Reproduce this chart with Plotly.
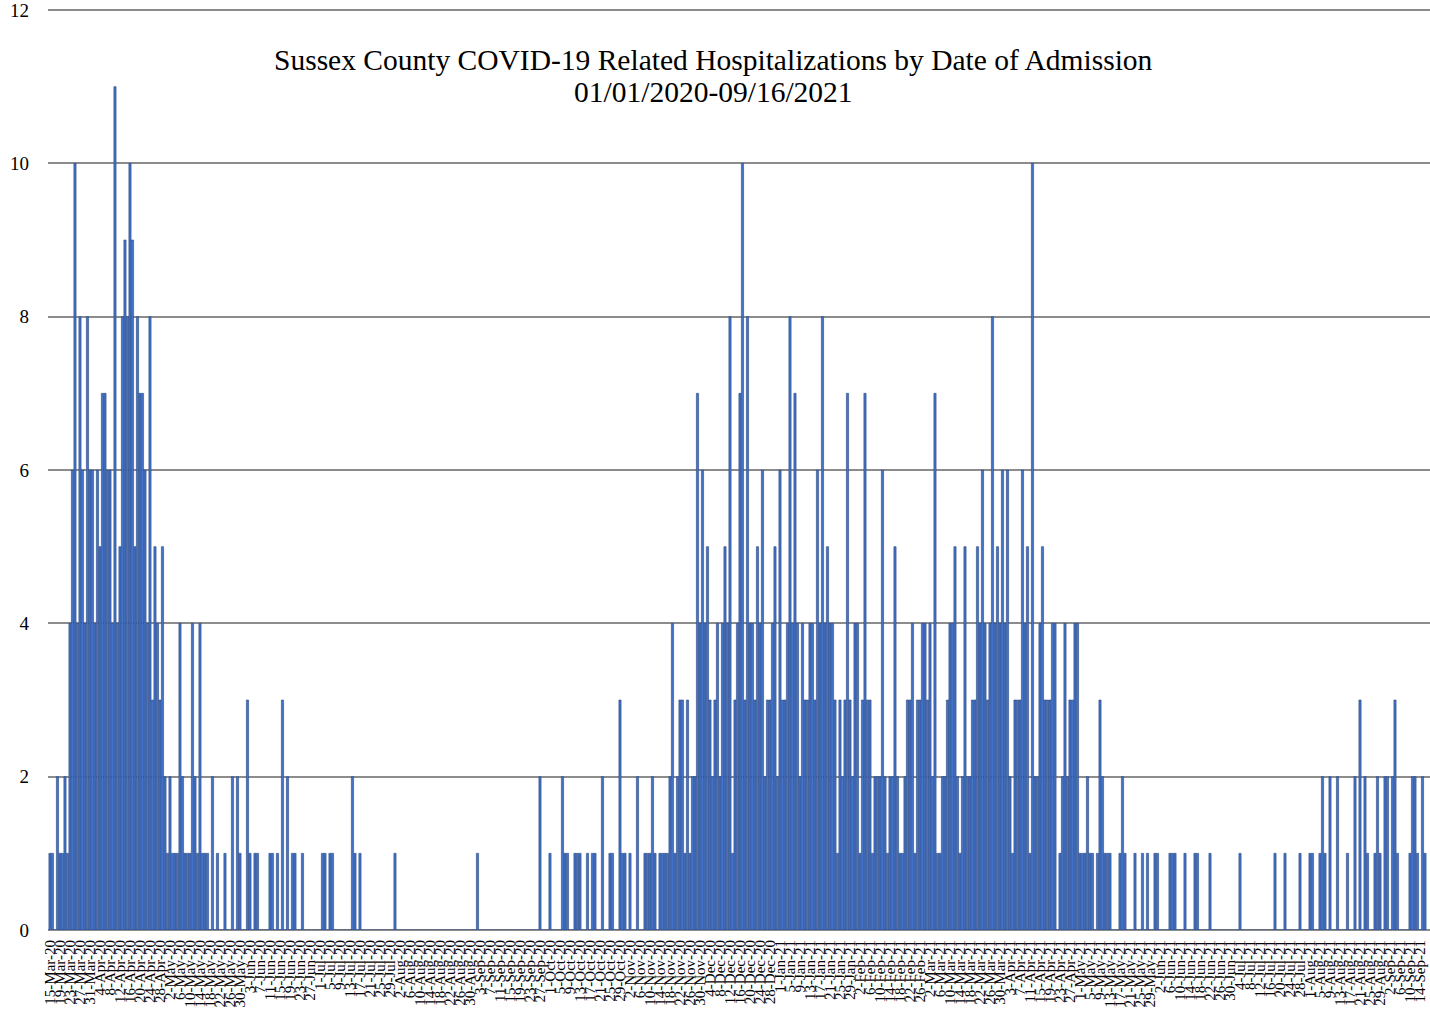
import pandas as pd
import plotly.graph_objects as go

START_DATE = "2020-03-15"

# Daily admissions (15-Mar-20 onward)
wave1 = [1, 1, 0, 2, 1, 1, 2, 1,
         4, 6, 10, 4, 8, 6, 4, 8, 6, 6, 4, 6,
         5, 7, 7, 6, 6, 4, 11, 4, 5, 8,
         9, 8, 10, 9, 5, 8, 7, 7, 6, 4,
         8, 3, 5, 4, 3, 5, 2, 1, 2, 1,
         1]
summer1 = [1, 4, 2, 1, 1, 1, 4, 2, 1, 4,
           1, 1, 1, 0, 2, 0, 1, 0, 0, 1,
           0, 0, 2, 0, 2, 1, 0, 0, 3, 1,
           0, 1, 1, 0, 0, 0, 0, 1, 1, 0,
           1, 0, 3, 0, 2, 0, 1, 1, 0, 0,
           1, 0, 0, 0, 0, 0, 0, 0, 1, 1,
           0, 1, 1]
summer2 = [0, 0, 0, 0, 0, 0, 0, 2, 1, 0,
           1, 0, 0, 0, 0, 0, 0, 0, 0, 0,
           0, 0, 0, 0, 1, 0, 0, 0, 0, 0,
           0, 0, 0, 0, 0, 0, 0, 0, 0, 0,
           0, 0, 0, 0, 0, 0, 0, 0, 0, 0,
           0, 0, 0, 0, 0, 0, 0, 1, 0, 0,
           0, 0, 0, 0, 0, 0, 0, 0, 0, 0,
           0, 0, 0, 0, 0, 0, 0, 0, 0, 0,
           0, 0]
fall = [2, 0, 0, 0, 1, 0, 0, 0, 0, 2,
        1, 1, 0, 0, 1, 1, 1, 0, 0, 1,
        0, 1, 1, 0, 0, 2, 0, 0, 1, 1,
        0, 0, 3, 1, 1, 0, 1, 0, 0, 2,
        0, 0, 1, 1, 1, 2, 1, 0, 1, 1,
        1, 1, 2, 4, 1]
wave2 = [2, 3, 3, 1, 3, 1, 2, 2, 7, 4,
         6, 4, 5, 3, 2, 3, 4, 2, 4, 5,
         4, 8, 1, 3, 4, 7, 10, 3, 8, 4,
         4, 3, 5, 4, 6, 2, 3, 3, 4, 5,
         2, 6, 3, 3, 4, 8, 4, 7, 4, 2,
         4, 3, 3, 4, 4, 3, 6, 4, 8, 4,
         5, 4, 4, 3, 1, 3, 2, 3, 7, 3,
         2, 4, 4, 1, 3, 7, 3, 3, 1, 2,
         2, 2, 6, 2, 1, 2, 2, 5, 2, 1,
         1, 2, 3, 3, 4, 1, 3, 3, 4, 4,
         3, 4, 2, 7, 1, 1, 2, 2, 3, 4,
         4, 5, 2, 1, 2, 5, 2, 2, 3, 3,
         5, 4, 6, 4, 3, 4, 8, 4, 5, 4,
         6, 4, 6, 2, 1, 3, 3, 3, 6, 4,
         5, 1, 10, 2, 2, 4, 5, 3, 3, 3,
         4, 4, 0, 1, 2, 4, 2, 3, 3, 4,
         4, 1, 1, 1, 2, 1, 1, 0, 1, 3,
         2, 1, 1, 1, 0, 0, 0, 1, 2, 1,
         0]
tail = [0, 0, 1, 0, 0, 1, 0, 1, 0, 0,
        1, 1, 0, 0, 0, 0, 1, 1, 1, 0,
        0, 0, 1, 0, 0, 0, 1, 1, 0, 0,
        0, 0, 1, 0, 0, 0, 0, 0, 0, 0,
        0, 0, 0, 0, 1, 0, 0, 0, 0, 0,
        0, 0, 0, 0, 0, 0, 0, 0, 1, 0,
        0, 0, 1, 0, 0, 0, 0, 0, 1, 0,
        0, 0, 1, 1, 0, 0, 1, 2, 1, 0,
        2, 0, 0, 2, 0, 0, 0, 1, 0, 0,
        2, 0, 3, 0, 2, 1, 0, 0, 1, 2,
        1, 0, 2, 2, 0, 2, 3, 1, 0, 0,
        0, 0, 1, 2, 2, 1, 0, 2, 1]

values = wave1 + summer1 + summer2 + fall + wave2 + tail
dates = pd.date_range(START_DATE, periods=len(values), freq="D")

tick_dates = pd.date_range(START_DATE, "2021-09-14", freq="4D")
tick_labels = [f"{d.day}-{d.strftime('%b-%y')}" for d in tick_dates]

y_ticks = [0, 2, 4, 6, 8, 10, 12]

title_line1 = "Sussex County COVID-19 Related Hospitalizations by Date of Admission"
title_line2 = "01/01/2020-09/16/2021"

SERIF = "Liberation Serif, Times New Roman, serif"

W, H = 1430, 1012
ML, MR, MT, MB = 48, 0, 8, 82
PW, PH = W - ML - MR, H - MT - MB
Y_TOP = 12 * PH / (PH - 2)   # keeps the 12 gridline 2px inside the plot

fig = go.Figure()
fig.add_trace(go.Bar(
    x=dates, y=values,
    marker=dict(color="#4472C4", line=dict(color="#2C4A86", width=0.6)),
    hoverinfo="x+y",
))

fig.update_layout(
    width=W, height=H, autosize=False,
    margin=dict(l=ML, r=MR, t=MT, b=MB, autoexpand=False),
    paper_bgcolor="white", plot_bgcolor="white",
    bargap=0.12,
    showlegend=False,
    font=dict(family=SERIF, color="black"),
)

fig.update_xaxes(
    type="date",
    range=[dates[0] - pd.Timedelta(hours=19), dates[0] + pd.Timedelta(days=552)],
    tickmode="array", tickvals=tick_dates, ticktext=tick_labels,
    tickangle=-90, tickfont=dict(family=SERIF, size=15, color="black"),
    showgrid=False, zeroline=False, showline=False, ticks="",
    ticklabelstandoff=6, automargin=False, ticklabeloverflow="allow",
)
fig.update_yaxes(
    range=[0, Y_TOP], tickmode="array", tickvals=y_ticks,
    tickfont=dict(family=SERIF, size=19, color="black"),
    showgrid=True, gridcolor="#8c8c8c", gridwidth=2,
    zeroline=True, zerolinecolor="#8c8c8c", zerolinewidth=2,
    showline=False, ticks="", ticklabelstandoff=18, automargin=False,
    ticklabeloverflow="allow",
)

tx = (713 - ML) / PW
fig.add_annotation(text=title_line1, xref="paper", yref="paper",
                   x=tx, y=(PH + MT - 60) / PH,
                   xanchor="center", yanchor="middle", showarrow=False,
                   font=dict(family=SERIF, size=29.5, color="black"))
fig.add_annotation(text=title_line2, xref="paper", yref="paper",
                   x=tx, y=(PH + MT - 92) / PH,
                   xanchor="center", yanchor="middle", showarrow=False,
                   font=dict(family=SERIF, size=29.5, color="black"))

fig.write_html("out.html", config={"displayModeBar": False},
               post_script="document.body.style.margin='0';document.body.style.overflow='hidden';")
